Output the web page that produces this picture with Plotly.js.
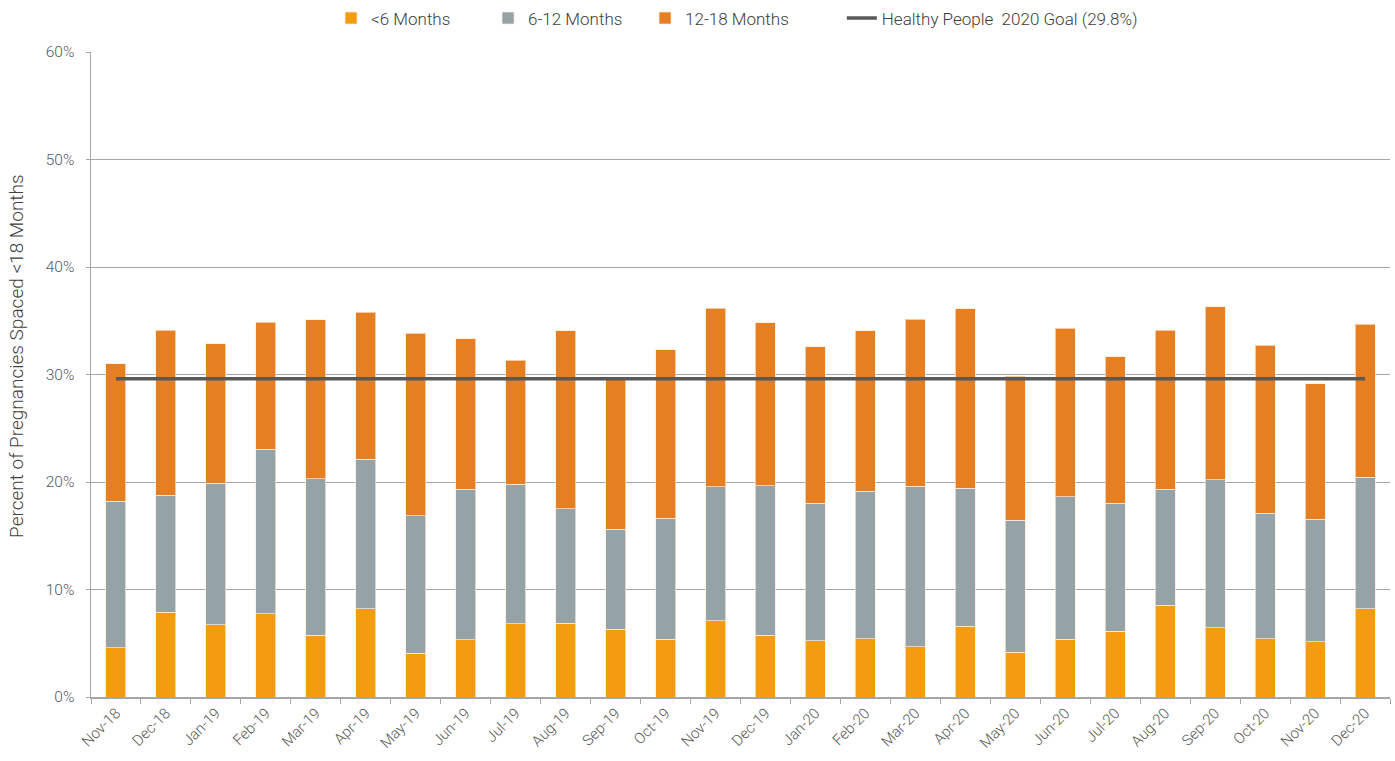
<!DOCTYPE html>
<html>
<head>
<meta charset="utf-8">
<script src="https://cdn.plot.ly/plotly-3.0.1.min.js"></script>
<style>html,body{margin:0;padding:0;background:#fff;}#chart{width:1395px;height:761px;}</style>
</head>
<body>
<div id="chart"></div>
<script>
const months = ["Nov-18","Dec-18","Jan-19","Feb-19","Mar-19","Apr-19","May-19","Jun-19","Jul-19","Aug-19","Sep-19","Oct-19","Nov-19","Dec-19","Jan-20","Feb-20","Mar-20","Apr-20","May-20","Jun-20","Jul-20","Aug-20","Sep-20","Oct-20","Nov-20","Dec-20"];
const under6 = [4.56,7.88,6.70,7.75,5.74,8.22,4.09,5.33,6.82,6.88,6.29,5.36,7.10,5.74,5.24,5.40,4.68,6.60,4.15,5.36,6.11,8.53,6.42,5.40,5.15,8.22];
const m6to12 = [13.67,10.88,13.18,15.29,14.57,13.89,12.78,13.99,12.96,10.61,9.31,11.26,12.47,13.89,12.77,13.73,14.92,12.80,12.28,13.28,11.90,10.79,13.80,11.68,11.38,12.21];
const m12to18 = [12.75,15.34,12.99,11.81,14.79,13.70,16.99,14.01,11.54,16.59,13.89,15.69,16.58,15.19,14.55,14.95,15.56,16.73,13.43,15.65,13.65,14.82,16.06,15.63,12.62,14.24];
const goalValue = 29.6;
const goalLabel = "Healthy People\u00a0 2020 Goal (29.8%)";
const yTitle = "Percent of Pregnancies Spaced <18 Months";
const yTickVals = [0,10,20,30,40,50,60];
const yTickText = ["0%","10%","20%","30%","40%","50%","60%"];

const fontFamily = "Roboto, 'Open Sans', sans-serif";
const barLine = {color: "rgba(255,235,220,0.7)", width: 1};
const legendFont = {family:fontFamily, size:17, color:"#404040", weight:300};

const traces = [
  {type:"bar", name:"<6 Months", x:months, y:under6, marker:{color:"#F39C12", line:barLine}, legend:"legend"},
  {type:"bar", name:"6-12 Months", x:months, y:m6to12, marker:{color:"#95A3A6", line:barLine}, legend:"legend"},
  {type:"bar", name:"12-18 Months", x:months, y:m12to18, marker:{color:"#E67E22", line:barLine}, legend:"legend"},
  {type:"scatter", mode:"lines", name:goalLabel, x:months, y:months.map(()=>goalValue),
   line:{color:"#595959", width:3.5}, legend:"legend2"}
];

const layout = {
  width:1395, height:761,
  margin:{l:91, r:5, t:52, b:64, autoexpand:false},
  barmode:"stack",
  bargap:0.6,
  paper_bgcolor:"#fff", plot_bgcolor:"#fff",
  font:{family:fontFamily, size:14, color:"#595959", weight:300},
  showlegend:true,
  legend:{orientation:"h", x:0.1848, xanchor:"left", y:1.052, yanchor:"middle",
          entrywidth:112, entrywidthmode:"pixels", itemwidth:30,
          font:legendFont, traceorder:"normal", bgcolor:"rgba(0,0,0,0)"},
  legend2:{orientation:"h", x:0.578, xanchor:"left", y:1.052, yanchor:"middle",
          itemwidth:30, font:legendFont, bgcolor:"rgba(0,0,0,0)"},
  xaxis:{type:"category", tickangle:-45, tickson:"boundaries", ticks:"outside", ticklen:5,
         tickcolor:"#a6a6a6", showline:true, linecolor:"#a6a6a6", linewidth:1.5,
         showgrid:false, tickfont:{size:15, color:"#595959"}, automargin:false},
  yaxis:{range:[0,60], tickvals:yTickVals, ticktext:yTickText, ticks:"outside", ticklen:4,
         tickcolor:"#a6a6a6", showline:true, linecolor:"#a6a6a6", linewidth:1.5,
         showgrid:true, gridcolor:"#a6a6a6", gridwidth:1, zeroline:false,
         ticklabelstandoff:8,
         tickfont:{size:15.5, color:"#595959"}, automargin:false},
  annotations:[{text:yTitle, textangle:-90, xref:"paper", yref:"paper",
                x:-0.057, y:0.5287, xanchor:"center", yanchor:"middle", showarrow:false,
                font:{family:fontFamily, size:19, color:"#404040", weight:300}}]
};

Plotly.newPlot("chart", traces, layout, {displayModeBar:false, staticPlot:true});
</script>
</body>
</html>
